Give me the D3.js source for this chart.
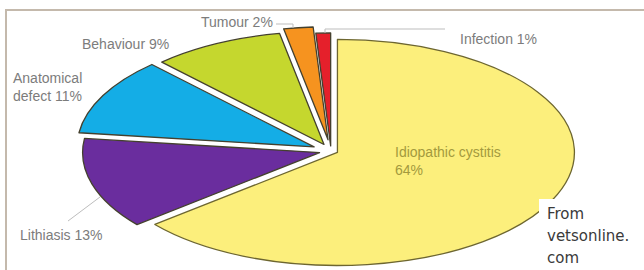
<!DOCTYPE html>
<html>
<head>
<meta charset="utf-8">
<script src="https://cdn.jsdelivr.net/npm/d3@7"></script>
<style>
  html, body { margin: 0; padding: 0; background: #ffffff; }
  svg { display: block; }
</style>
</head>
<body>
<svg id="chart" width="644" height="270"></svg>
<script>
// ---- data ----
const categories = ["Idiopathic cystitis", "Lithiasis", "Anatomical defect", "Behaviour", "Tumour", "Infection"];
const values = [64, 13, 11, 9, 2, 1];
const colors = ["#fcef7c", "#6a2d9e", "#14ade6", "#c5d72e", "#f6931f", "#e5202b"];
const labelLines = [
  ["Idiopathic cystitis", "64%"],
  ["Lithiasis 13%"],
  ["Anatomical", "defect 11%"],
  ["Behaviour 9%"],
  ["Tumour 2%"],
  ["Infection 1%"]
];
const sourceLines = ["From", "vetsonline.", "com"];

// ---- layout ----
const W = 644, H = 270;
const cx = 331, cy = 151, rx = 237, ry = 113;
const explode = [0.03, 0.05, 0.08, 0.065, 0.1, 0.045];
const labelPos = [
  {x: 395, y: 157, fill: "#a39a3e"},
  {x: 20,  y: 240, fill: "#7c7c7c"},
  {x: 13,  y: 83,  fill: "#7c7c7c"},
  {x: 82,  y: 49,  fill: "#7c7c7c"},
  {x: 201, y: 27,  fill: "#7c7c7c"},
  {x: 460, y: 44,  fill: "#7c7c7c"}
];

const svg = d3.select("#chart");

// frame
svg.append("path")
  .attr("d", `M6,${H} V10 H${W}`)
  .attr("fill", "none")
  .attr("stroke", "#c4b9ac")
  .attr("stroke-width", 2);

// pie
const pie = d3.pie().sort(null).value(d => d.value);
const arcs = pie(categories.map((c, i) => ({cat: c, value: values[i], i})));
const arc = d3.arc().innerRadius(0).outerRadius(rx);

const g = svg.append("g")
  .attr("transform", `translate(${cx},${cy}) scale(1,${ry / rx})`);

g.selectAll("path.slice")
  .data(arcs)
  .join("path")
  .attr("class", "slice")
  .attr("d", arc)
  .attr("transform", d => {
    const m = (d.startAngle + d.endAngle) / 2;
    const off = explode[d.data.i] * rx;
    return `translate(${Math.sin(m) * off},${-Math.cos(m) * off})`;
  })
  .attr("fill", d => colors[d.data.i])
  .attr("stroke", d => d.data.i === 0 ? "#6d6630" : "#44402e")
  .attr("stroke-width", 1.3)
  .attr("stroke-linejoin", "round")
  .attr("vector-effect", "non-scaling-stroke");

// leader lines
const leaders = [
  [[276, 24], [293, 24], [293, 28]],
  [[325, 33], [325, 29], [445, 29]],
  [[68, 221], [100, 197]]
];
svg.selectAll("path.leader")
  .data(leaders)
  .join("path")
  .attr("class", "leader")
  .attr("d", d => d3.line()(d))
  .attr("fill", "none")
  .attr("stroke", "#bdbdbd")
  .attr("stroke-width", 1);

// labels
const lbl = svg.selectAll("text.lbl")
  .data(labelLines)
  .join("text")
  .attr("class", "lbl")
  .attr("x", (d, i) => labelPos[i].x)
  .attr("y", (d, i) => labelPos[i].y)
  .attr("fill", (d, i) => labelPos[i].fill)
  .style("font-family", "'Liberation Sans', Arial, sans-serif")
  .style("font-size", "14px");
lbl.selectAll("tspan")
  .data((d, i) => d.map(t => ({t, x: labelPos[i].x})))
  .join("tspan")
  .attr("x", d => d.x)
  .attr("dy", (d, j) => j === 0 ? 0 : 18)
  .text(d => d.t);

// source box
svg.append("rect")
  .attr("x", 539).attr("y", 199)
  .attr("width", W - 539).attr("height", H - 199)
  .attr("fill", "#ffffff");
svg.append("text")
  .attr("x", 547).attr("y", 219)
  .attr("fill", "#3a3a3a")
  .style("font-family", "'DejaVu Sans', sans-serif")
  .style("font-size", "15px")
  .selectAll("tspan")
  .data(sourceLines)
  .join("tspan")
  .attr("x", 547)
  .attr("dy", (d, j) => j === 0 ? 0 : 22)
  .text(d => d);
</script>
</body>
</html>
